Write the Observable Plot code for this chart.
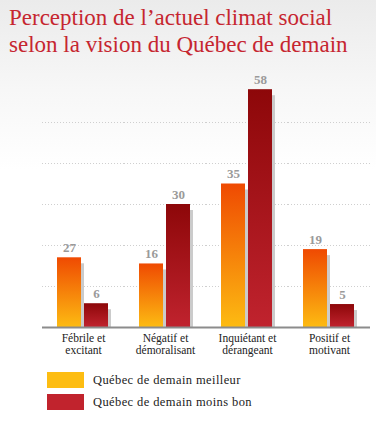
<!DOCTYPE html>
<html>
<head>
<meta charset="utf-8">
<script src="https://cdn.jsdelivr.net/npm/d3@7"></script>
<script src="https://cdn.jsdelivr.net/npm/@observablehq/plot@0.6"></script>
<style>
  html, body { margin: 0; padding: 0; }
  body {
    width: 376px; height: 440px; overflow: hidden;
    background: linear-gradient(#ebebeb 0px, #f7f7f7 90px, #ffffff 170px, #ffffff 440px);
    font-family: "Liberation Serif", serif;
  }
  #title {
    height: 70px; box-sizing: border-box; padding: 4px 0 0 9px;
    font-size: 23px; line-height: 27px; color: #c62630;
  }
  #chart svg { display: block; background: transparent; }
  #legend { margin-top: 12px; padding-left: 47px; }
  .row { display: flex; align-items: center; height: 16px; margin-bottom: 6px; }
  .sw { width: 37px; height: 16px; margin-right: 9px; }
  .lab { font-size: 12.5px; letter-spacing: 0.4px; color: #222; }
</style>
</head>
<body>
<div id="title">Perception de l’actuel climat social<br>selon la vision du Québec de demain</div>
<div id="chart"></div>
<div id="legend"></div>
<script>
// ---- data ----
const categories = ["Fébrile et\nexcitant", "Négatif et\ndémoralisant", "Inquiétant et\ndérangeant", "Positif et\nmotivant"];
const series = ["Québec de demain meilleur", "Québec de demain moins bon"];
const meilleur = [27, 16, 35, 19];
const moinsBon = [6, 30, 58, 5];
// bar heights as drawn in the picture (the "27" bar is drawn at about 17)
const drawnMeilleur = [17, 15.5, 35, 19];
const drawnMoinsBon = [5.8, 30, 58, 5.6];
const gridValues = [10, 20, 30, 40, 50];
const legendColors = ["#fdbd12", "#c1232d"];

const rows = categories.flatMap((c, i) => [
  {category: c, series: series[0], value: meilleur[i], drawn: drawnMeilleur[i]},
  {category: c, series: series[1], value: moinsBon[i], drawn: drawnMoinsBon[i]}
]);
const rowsA = rows.filter(d => d.series === series[0]);
const rowsB = rows.filter(d => d.series === series[1]);

const serif = "Liberation Serif";

const chart = Plot.plot({
  width: 376,
  height: 290,
  marginLeft: 42,
  marginRight: 6,
  marginTop: 11,
  marginBottom: 33,
  style: {background: "transparent", fontFamily: serif, color: "#222"},
  fx: {domain: categories, padding: 0},
  x: {domain: series, paddingInner: 0.1, paddingOuter: 0.557, axis: null},
  y: {domain: [0, 60], axis: null},
  marks: [
    Plot.ruleY(gridValues, {stroke: "#cfcfcf", strokeDasharray: "1,2"}),
    Plot.barY(rows, {fx: "category", x: "series", y: "drawn", fill: "#cbcbcb", dx: 3, insetTop: 6}),
    Plot.barY(rowsA, {fx: "category", x: "series", y: "drawn", fill: "url(#gradA)"}),
    Plot.barY(rowsB, {fx: "category", x: "series", y: "drawn", fill: "url(#gradB)"}),
    Plot.ruleY([0], {stroke: "#8c8c8c", strokeWidth: 2}),
    Plot.text(rows, {fx: "category", x: "series", y: "drawn", text: d => String(d.value),
      dy: -6, lineAnchor: "bottom", fill: "#9a9a9a", fontWeight: "bold", fontSize: 13, fontFamily: serif}),
    Plot.axisFx({anchor: "bottom", tickSize: 0, tickPadding: 6, label: null,
      fontSize: 11.5, lineHeight: 1.05, fill: "#222", fontFamily: serif})
  ]
});

// gradients for the bars
const defs = d3.select(chart).insert("defs", ":first-child");
function grad(id, top, bottom) {
  const g = defs.append("linearGradient").attr("id", id)
    .attr("x1", 0).attr("y1", 0).attr("x2", 0).attr("y2", 1);
  g.append("stop").attr("offset", "0%").attr("stop-color", top);
  g.append("stop").attr("offset", "100%").attr("stop-color", bottom);
}
grad("gradA", "#ef4a02", "#fdbb12");
grad("gradB", "#8d0709", "#c0232e");

document.getElementById("chart").appendChild(chart);

// legend
const legend = d3.select("#legend");
series.forEach((s, i) => {
  const r = legend.append("div").attr("class", "row");
  r.append("div").attr("class", "sw").style("background", legendColors[i]);
  r.append("div").attr("class", "lab").text(s);
});
</script>
</body>
</html>
